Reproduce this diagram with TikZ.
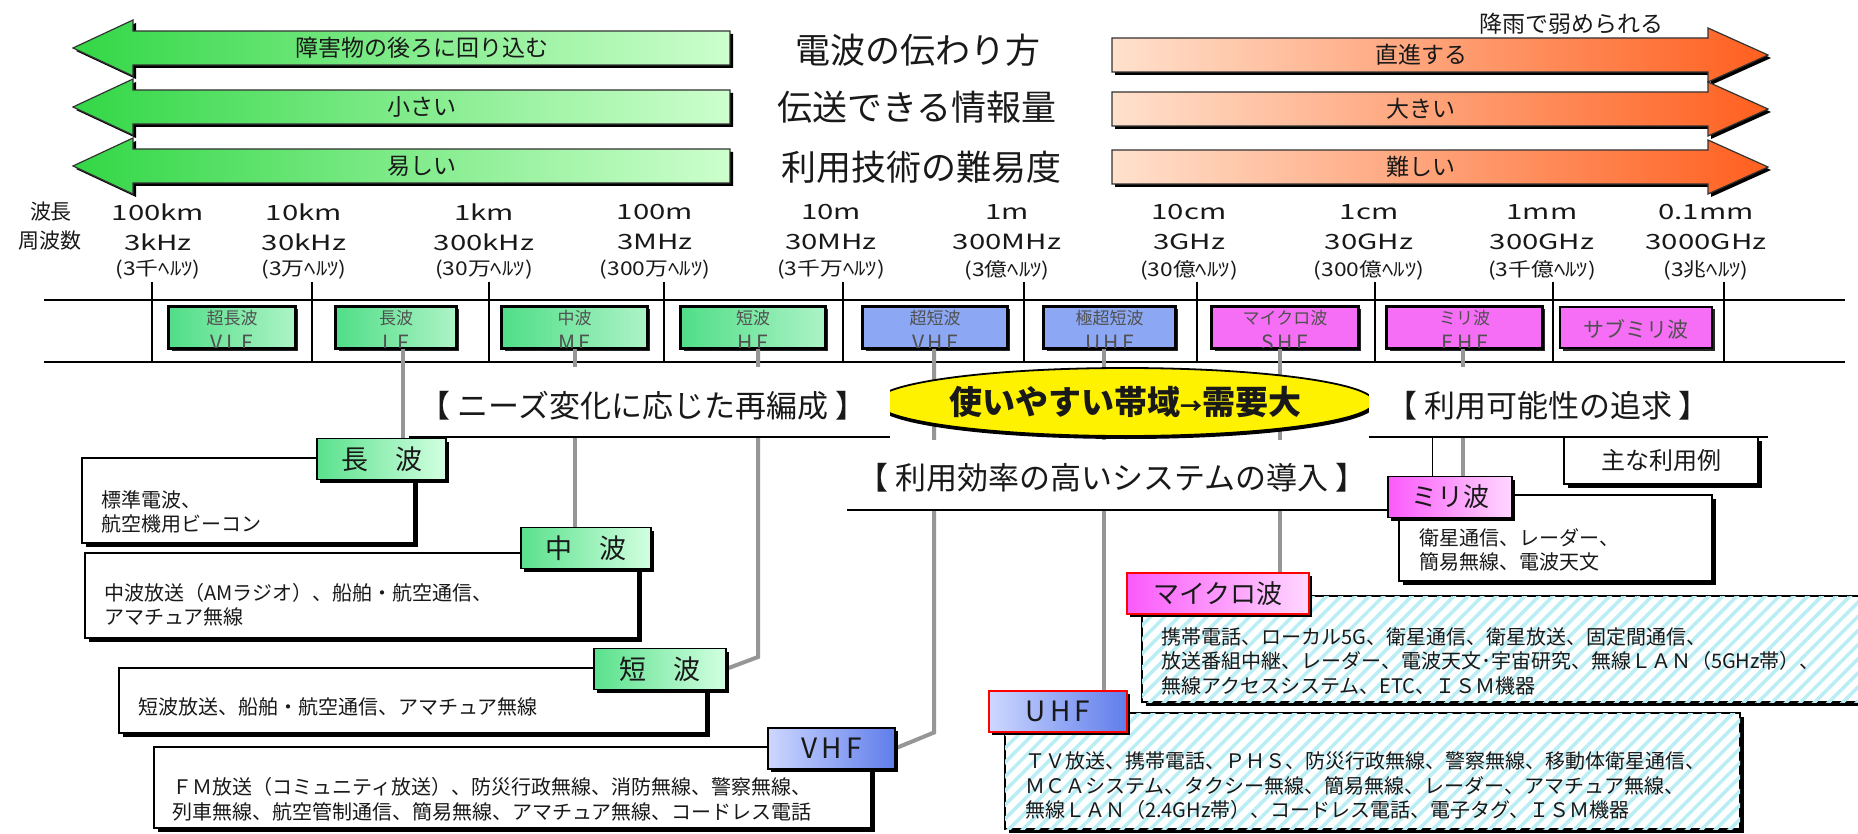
\documentclass[tikz,border=0pt]{standalone}
\usepackage{fontspec}
\setmainfont{Noto Sans CJK JP}
\usetikzlibrary{shapes.geometric,patterns.meta,calc,shadows}
\definecolor{txtK}{RGB}{25,25,25}
\definecolor{txtG}{RGB}{80,80,80}
\definecolor{gArL}{RGB}{50,215,70}
\definecolor{gArR}{RGB}{205,255,205}
\definecolor{oArL}{RGB}{255,225,205}
\definecolor{oArR}{RGB}{255,95,30}
\definecolor{bgA}{RGB}{80,222,135}
\definecolor{bgB}{RGB}{212,252,225}
\definecolor{bbA}{RGB}{140,168,245}
\definecolor{bbB}{RGB}{228,235,255}
\definecolor{bpA}{RGB}{245,110,245}
\definecolor{bpB}{RGB}{255,215,255}
\definecolor{connG}{RGB}{150,150,150}
\definecolor{hatchC}{RGB}{185,238,245}
\definecolor{lgA}{RGB}{90,225,140}
\definecolor{lgB}{RGB}{210,255,225}
\definecolor{lbA}{RGB}{205,215,255}
\definecolor{lbB}{RGB}{95,125,235}
\definecolor{lpA}{RGB}{250,90,250}
\definecolor{lpB}{RGB}{255,215,255}

\newcommand\myfs[2]{\fontsize{#1pt}{#2pt}\selectfont}
\newcommand\garrow[1]{(73,#1) -- (133,#1-28) -- (133,#1-17) -- (730,#1-17) -- (730,#1+17) -- (133,#1+17) -- (133,#1+28) -- cycle}
\newcommand\oarrow[1]{(1112,#1-17) -- (1708,#1-17) -- (1708,#1-27) -- (1768,#1) -- (1708,#1+27) -- (1708,#1+17) -- (1112,#1+17) -- cycle}

\tikzset{
  every node/.style={inner sep=0pt,text=txtK},
  title/.style={font=\myfs{35}{40}},
  atext/.style={font=\myfs{23}{26}},
  scl/.style={font=\myfs{21}{24}},
  hzl/.style={font=\myfs{19}{21}},
  bb/.style={draw=black,line width=1.6,minimum height=41,
    drop shadow={shadow xshift=2.5pt,shadow yshift=-2.5pt,opacity=1,fill=black!85}},
  gsh/.style={left color=bgA,middle color=bgB,right color=bgB!70!bgA},
  bsh/.style={left color=bbA,middle color=bbB,right color=bbA},
  psh/.style={left color=bpA,middle color=bpB,right color=bpA},
  bbt1/.style={font=\myfs{17}{20},text=txtG},
  bbt2/.style={font=\myfs{21}{24},text=txtG},
  conn/.style={draw=connG,line width=4},
  hdr/.style={fill=white,minimum height=70},
  hdrt/.style={font=\myfs{31}{34}},
  descb/.style={draw=black,line width=1.5,fill=white,
    drop shadow={shadow xshift=4pt,shadow yshift=-4pt,opacity=1,fill=black}},
  hatchb/.style={descb,postaction={pattern={Lines[angle=45,distance=10pt,line width=3.5pt]},pattern color=hatchC}},
  desct/.style={font=\myfs{20}{24.5},align=left,anchor=west},
  lab/.style={draw=black,line width=1.6,minimum height=41,font=\myfs{27}{30},
    drop shadow={shadow xshift=3pt,shadow yshift=-3pt,opacity=1,fill=black}},
  glab/.style={lab,left color=lgA,right color=lgB},
  blab/.style={lab,left color=lbA,right color=lbB},
  plab/.style={lab,left color=lpA,right color=lpB},
}

\newcommand\bandbox[6]{%
  \node[bb,#4,minimum width={#3-#2}] (#1) at ({(#2+#3)/2},327.5) {};
  \begin{scope}
    \clip (#1.south west) rectangle (#1.north east);
    \node[bbt1] (#1a) at ({(#2+#3)/2},318) {#5};
    \node[bbt2] (#1b) at ({(#2+#3)/2},343) {#6};
  \end{scope}
  \draw[line width=1.6] (#1.south west) rectangle (#1.north east);
}

\begin{document}
\begin{tikzpicture}[x=1pt,y=-1pt]
\fill[white] (0,0) rectangle (1858,834);
\useasboundingbox (0,0) rectangle (1858,834);

% ---- top arrows
\foreach \c in {48,107,166}{
  \begin{scope}[shift={(3,3)}]\fill[black] \garrow{\c};\end{scope}
  \shade[left color=gArL,right color=gArR,draw=black!80,line width=1.2] \garrow{\c};
}
\foreach \c in {55,109,167}{
  \begin{scope}[shift={(3,3)}]\fill[black] \oarrow{\c};\end{scope}
  \shade[left color=oArL,middle color=oArL!70!oArR,right color=oArR,draw=black!80,line width=1.2] \oarrow{\c};
}
\node[atext] (g1) at (422,48) {障害物の後ろに回り込む};
\node[atext] (g2) at (422,107) {小さい};
\node[atext] (g3) at (422,166) {易しい};
\node[title] (t1) at (918,50) {電波の伝わり方};
\node[title] (t2) at (917,107) {伝送できる情報量};
\node[title] (t3) at (921,167) {利用技術の難易度};
\node[atext] (o1) at (1421,55) {直進する};
\node[atext] (o2) at (1421,109) {大きい};
\node[atext] (o3) at (1421,167) {難しい};
\node[atext] (rain) at (1571,24) {降雨で弱められる};

% ---- scale
\node[scl] (wl) at (51,212) {波長};
\node[scl] (fq) at (50,241) {周波数};
\foreach \x/\w/\f/\h [count=\i] in {158/100km/3kHz/(3千ﾍﾙﾂ),304/10km/30kHz/(3万ﾍﾙﾂ),
   484/1km/300kHz/(30万ﾍﾙﾂ),655/100m/3MHz/(300万ﾍﾙﾂ),831/10m/30MHz/(3千万ﾍﾙﾂ),
   1007/1m/300MHz/(3億ﾍﾙﾂ),1189/10cm/3GHz/(30億ﾍﾙﾂ),1369/1cm/30GHz/(300億ﾍﾙﾂ),
   1542/1mm/300GHz/(3千億ﾍﾙﾂ),1706/0.1mm/3000GHz/(3兆ﾍﾙﾂ)}{
  \node[scl] (w\i) at (\x,212) {\scalebox{1.4}[1]{\w}};
  \node[scl] (f\i) at (\x,242) {\scalebox{1.4}[1]{\f}};
  \node[hzl] (h\i) at (\x,270) {\scalebox{1.2}[1]{\h}};
}
\draw[line width=2.5] (44,300) -- (1845,300);
\draw[line width=2.5] (44,362) -- (1845,362);
\foreach \t in {152,312,489,664,843,1024,1197,1375,1553,1724}
  \draw[line width=1.6] (\t,282) -- (\t,362);

% ---- band boxes
\bandbox{vlf}{169}{295}{gsh}{超長波}{V\,L\,F}
\bandbox{lf}{336}{456}{gsh}{長波}{L\,F}
\bandbox{mf}{502}{647}{gsh}{中波}{M\,F}
\bandbox{hf}{681}{825}{gsh}{短波}{H\,F}
\bandbox{vhf}{863}{1007}{bsh}{超短波}{V\,H\,F}
\bandbox{uhf}{1044}{1175}{bsh}{極超短波}{U\,H\,F}
\bandbox{shf}{1212}{1358}{psh}{マイクロ波}{S\,H\,F}
\bandbox{ehf}{1387}{1542}{psh}{ミリ波}{E\,H\,F}
\node[bb,psh,minimum width=152] (sub) at (1636,327.5) {};
\node[bbt2] (subt) at (1636,329) {サブミリ波};

% ---- connector anchor points
\coordinate (c1) at ($(lf.south)+(7,0)$);
\coordinate (c2) at ($(mf.south)+(0.5,0)$);
\coordinate (c3) at ($(hf.south)+(5,0)$);
\coordinate (c4) at ($(vhf.south)+(-1,0)$);
\coordinate (c5) at ($(uhf.south)+(-5.5,0)$);
\coordinate (c6) at ($(shf.south)+(-5,0)$);
\coordinate (c7) at ($(ehf.south)+(-1.5,0)$);
\path (381.5,459) coordinate (plf) (586,548) coordinate (pmf) (660,669) coordinate (phf)
      (831.5,748.5) coordinate (pvhf) (1058,711.5) coordinate (puhf)
      (1218,593.5) coordinate (pshf) (1450,497) coordinate (pehf);

% connectors
\draw[conn] (c1) -- (c1 |- 0,438);
\draw[conn] (c2) -- (c2 |- 0,527);
\draw[conn] (c3) -- ($(c3 |- phf)+(0,-12)$) -- ($(phf)+(66,0)$);
\draw[conn] (c4) -- ($(c4 |- pvhf)+(0,-16)$) -- ($(pvhf)+(63.5,0)$);
\draw[conn] (c5) -- (c5 |- 0,691);
\draw[conn] (c6) -- (c6 |- 0,573);
\draw[conn] (c7) -- (c7 |- 0,477);

% ellipse
\node[ellipse,draw=black,line width=1.8,fill=yellow,minimum width=444,minimum height=68,
  drop shadow={shadow xshift=1pt,shadow yshift=-3pt,opacity=1,fill=black},
  font=\bfseries\myfs{33}{36}] (ell) at (1125,402) {使いやすい帯域{\myfs{22}{24}→}需要大};

% header boxes
\node[hdr,minimum width=481] (hdrA) at (649.5,402) {};
\draw[line width=1.5] (hdrA.south west) -- (hdrA.south east);
\node[hdrt] (hdrAt) at (643,406) {【 ニーズ変化に応じた再編成 】};
\node[hdr,minimum width=545] (hdrB) at (1119.5,475) {};
\draw[line width=1.5] (hdrB.south west) -- (hdrB.south east);
\node[hdrt] (hdrBt) at (1112,478) {【 利用効率の高いシステムの導入 】};
\node[hdr,minimum width=399] (hdrC) at (1568.5,402) {};
\draw[line width=1.5] (hdrC.south west) -- (hdrC.south east);
\node[hdrt] (hdrCt) at (1548,406) {【 利用可能性の追求 】};

\node[descb,minimum width=194,minimum height=47,font=\myfs{24}{28}] (main) at (1661,460.5) {主な利用例};

% description boxes
\node[descb,minimum width=332,minimum height=85] (lfd) at (248,500.5) {};
\node[desct] (lfdt) at (101,512) {標準電波、\\航空機用ビーコン};
\node[descb,minimum width=553,minimum height=85] (mfd) at (361.5,595.5) {};
\node[desct] (mfdt) at (104,605) {中波放送（AMラジオ）、船舶・航空通信、\\アマチュア無線};
\node[descb,minimum width=587,minimum height=65] (hfd) at (412.5,700.5) {};
\node[desct] (hfdt) at (138,707) {短波放送、船舶・航空通信、アマチュア無線};
\node[descb,minimum width=717,minimum height=81] (vhfd) at (512.5,787.5) {};
\node[desct] (vhfdt) at (172,799.5) {ＦＭ放送（コミュニティ放送）、防災行政無線、消防無線、警察無線、\\列車無線、航空管制通信、簡易無線、アマチュア無線、コードレス電話};
\node[hatchb,minimum width=735,minimum height=116] (uhfd) at (1372.5,771) {};
\node[desct] (uhfdt) at (1025,786) {ＴＶ放送、携帯電話、ＰＨＳ、防災行政無線、警察無線、移動体衛星通信、\\ＭＣＡシステム、タクシー無線、簡易無線、レーダー、アマチュア無線、\\無線ＬＡＮ（2.4GHz帯）、コードレス電話、電子タグ、ＩＳＭ機器};
\node[hatchb,minimum width=738,minimum height=106] (shfd) at (1511,649) {};
\node[desct] (shfdt) at (1161,661) {携帯電話、ローカル5G、衛星通信、衛星放送、固定間通信、\\放送番組中継、レーダー、電波天文･宇宙研究、無線ＬＡＮ（5GHz帯）、\\無線アクセスシステム、ETC、ＩＳＭ機器};
\node[descb,minimum width=313,minimum height=86] (ehfd) at (1555.5,538) {};
\node[desct] (ehfdt) at (1419,550) {衛星通信、レーダー、\\簡易無線、電波天文};

% labels
\node[glab,minimum width=129] (lflab) at (plf) {長　波};
\node[glab,minimum width=130] (mflab) at (pmf) {中　波};
\node[glab,minimum width=132] (hflab) at (phf) {短　波};
\node[blab,minimum width=127,font=\myfs{28}{30}] (vhflab) at (pvhf) {V\kern4pt H\kern4pt F};
\node[blab,draw=red,minimum width=138,font=\myfs{28}{30}] (uhflab) at (puhf) {U\kern4pt H\kern4pt F};
\node[plab,draw=red,minimum width=182,font=\myfs{26}{30}] (shflab) at (pshf) {マイクロ波};
\node[plab,minimum width=124,font=\myfs{26}{30}] (ehflab) at (pehf) {ミリ波};

\coordinate (thinT) at (1432,437);
\draw[line width=0.8] (thinT) -- (thinT |- ehflab.north);
\end{tikzpicture}
\end{document}
